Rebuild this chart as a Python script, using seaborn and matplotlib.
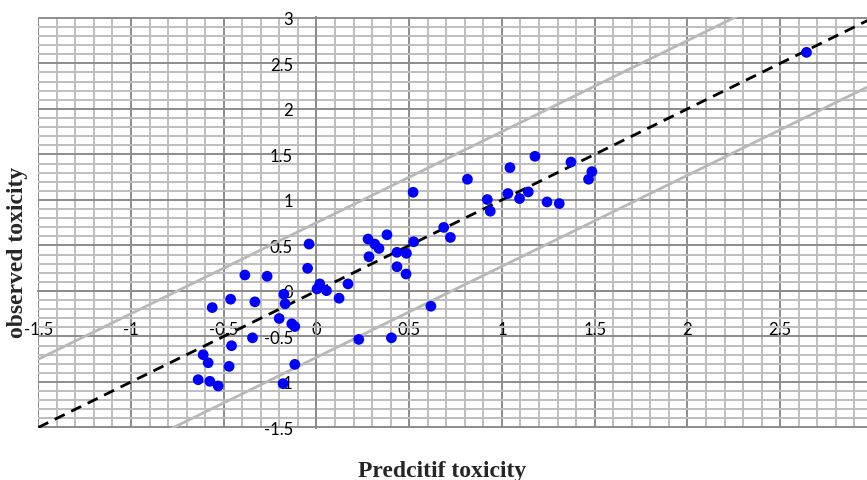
import matplotlib
matplotlib.use("Agg")
import matplotlib.pyplot as plt
from matplotlib.ticker import MultipleLocator, FixedLocator
import seaborn as sns
import numpy as np
import pandas as pd

# ---- data ----
predicted = [-0.040, -0.048, -0.386, -0.266, 0.018, 0.003, 0.054, -0.176, -0.463, -0.332,
             -0.169, -0.562, -0.201, -0.133, -0.117, -0.345, -0.458, -0.611, -0.584, -0.471,
             -0.117, -0.638, -0.575, -0.530, -0.180,
             0.122, 0.170, 0.278, 0.314, 0.337, 0.380, 0.283, 0.434, 0.485, 0.524,
             0.434, 0.483, 0.686, 0.722, 0.617, 0.228, 0.404,
             0.814, 0.921, 0.937, 1.032, 1.043, 1.095, 1.142, 1.178, 1.243, 1.309,
             1.372, 1.485, 1.467, 0.521, 2.642]
observed = [0.515, 0.249, 0.175, 0.161, 0.077, 0.022, 0.003, -0.036, -0.091, -0.120,
            -0.142, -0.183, -0.303, -0.361, -0.391, -0.515, -0.602, -0.701, -0.789, -0.829,
            -0.807, -0.975, -0.993, -1.044, -1.019,
            -0.080, 0.077, 0.570, 0.515, 0.467, 0.617, 0.376, 0.424, 0.413, 0.540,
            0.266, 0.186, 0.698, 0.588, -0.168, -0.533, -0.515,
            1.227, 1.004, 0.876, 1.070, 1.355, 1.015, 1.088, 1.479, 0.978, 0.960,
            1.416, 1.311, 1.227, 1.084, 2.621]

x_ticks = [-1.5, -1, -0.5, 0, 0.5, 1, 1.5, 2, 2.5]
x_tick_labels = ["-1.5", "-1", "-0.5", "0", "0.5", "1", "1.5", "2", "2.5"]
y_ticks = [-1.5, -1, -0.5, 0, 0.5, 1, 1.5, 2, 2.5, 3]
y_tick_labels = ["-1.5", "-1", "-0.5", "0", "0.5", "1", "1.5", "2", "2.5", "3"]
x_limits = [-1.5, 3.0]
y_limits = [-1.5, 3.0]
band_offsets = [0.75, -0.73]   # upper / lower limit lines (y = x + c)

x_label = "Predcitif toxicity"
y_label = "observed toxicity"

# ---- figure ----
sns.set_style("white")
plt.rcParams["font.family"] = ["Lato", "DejaVu Sans"]

fig = plt.figure(figsize=(8.67, 4.81), dpi=100)
ax = fig.add_axes([0.0435, 0.1081, 0.9633, 0.8538])

ax.set_xlim(x_limits[0] - 0.003, x_limits[1])
ax.set_ylim(y_limits[0] - 0.006, y_limits[1] + 0.006)

ax.xaxis.set_major_locator(FixedLocator(x_ticks))
ax.yaxis.set_major_locator(FixedLocator(y_ticks))
ax.xaxis.set_minor_locator(MultipleLocator(0.1))
ax.yaxis.set_minor_locator(MultipleLocator(0.1))
ax.set_xticklabels(x_tick_labels)
ax.set_yticklabels(y_tick_labels)

ax.grid(which="minor", color="#bebebe", linewidth=1.4, zorder=0)
ax.grid(which="major", color="#8c8c8c", linewidth=1.4, zorder=0.5)
ax.axvline(x_limits[1], color="#8c8c8c", linewidth=1.4, zorder=0.5)
ax.set_axisbelow(True)

for s in ["top", "right"]:
    ax.spines[s].set_visible(False)
ax.spines["left"].set_position(("data", 0))
ax.spines["bottom"].set_position(("data", 0))
for s in ["left", "bottom"]:
    ax.spines[s].set_color("#8c8c8c")
    ax.spines[s].set_linewidth(1.4)
    ax.spines[s].set_zorder(0.6)

ax.tick_params(axis="both", which="both", length=0)
ax.tick_params(axis="x", which="major", pad=22, labelsize=12, labelcolor="black")
ax.tick_params(axis="y", which="major", pad=17, labelsize=12, labelcolor="black")

# reference and limit lines
xs = np.array(x_limits)
line_df = pd.DataFrame({"x": xs, "y": xs})
sns.lineplot(data=line_df, x="x", y="y", ax=ax, color="black", linewidth=2.0,
             linestyle=(0, (4, 2.6)), zorder=3)
for c in band_offsets:
    bdf = pd.DataFrame({"x": xs, "y": xs + c})
    sns.lineplot(data=bdf, x="x", y="y", ax=ax, color="#b8b8b8", linewidth=2.0, zorder=2)

pts = pd.DataFrame({"pred": predicted, "obs": observed})
sns.scatterplot(data=pts, x="pred", y="obs", ax=ax, color="#0000ff", s=60,
                edgecolor="none", zorder=4)

ax.set_xlabel("")
ax.set_ylabel("")

fig.text(441.7 / 867, 4 / 481, x_label, ha="center", va="baseline",
         fontsize=17, fontweight="bold", family=["Liberation Serif"])
fig.text(17.5 / 867, 0.476, y_label, ha="center", va="center", rotation=90,
         fontsize=17, fontweight="bold", family=["Liberation Serif"])

fig.savefig("out.png", dpi=100)
